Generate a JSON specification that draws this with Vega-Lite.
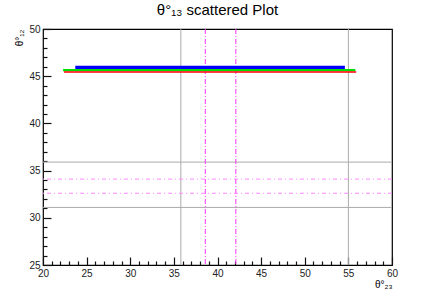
{
  "$schema": "https://vega.github.io/schema/vega-lite/v6.json",
  "autosize": "none",
  "width": 349,
  "height": 236,
  "padding": {"left": 43, "top": 29, "right": 44, "bottom": 30},
  "background": "white",
  "config": {
    "font": "Liberation Sans",
    "view": {"stroke": "black", "strokeWidth": 1.2},
    "axis": {"grid": false, "domain": false, "labelFont": "Liberation Sans", "labelFontSize": 10, "labelColor": "#222", "titleFont": "Liberation Sans", "titleFontWeight": "normal", "titleFontSize": 10}
  },
  "title": {"text": "θ°₁₃ scattered Plot", "fontSize": 15, "fontWeight": "normal", "font": "Liberation Sans", "offset": 6, "color": "black"},
  "data": {"values": [
    {"kind": "band", "series": "blue", "x": 23.7, "x2": 54.6, "y": 45.72, "y2": 46.1},
    {"kind": "band", "series": "green", "x": 22.3, "x2": 55.8, "y": 45.52, "y2": 45.75},
    {"kind": "band", "series": "red", "x": 22.4, "x2": 55.9, "y": 45.36, "y2": 45.52},
    {"kind": "vgray", "v": 35.8},
    {"kind": "vgray", "v": 55.0},
    {"kind": "vmag", "v": 38.6},
    {"kind": "vmag", "v": 42.1},
    {"kind": "hgray", "v": 35.9},
    {"kind": "hgray", "v": 31.1},
    {"kind": "hmag", "v": 34.1},
    {"kind": "hmag", "v": 32.6}
  ]},
  "layer": [
    {
      "transform": [{"filter": "datum.kind === 'vgray'"}],
      "mark": {"type": "rule", "color": "#aaaaaa", "strokeWidth": 1},
      "encoding": {
        "x": {"field": "v", "type": "quantitative", "scale": {"domain": [20, 60], "nice": false, "zero": false},
          "axis": {"orient": "bottom", "offset": -4, "values": [21,22,23,24,26,27,28,29,31,32,33,34,36,37,38,39,41,42,43,44,46,47,48,49,51,52,53,54,56,57,58,59], "labels": false, "ticks": true, "tickSize": 4, "tickColor": "#111111", "tickWidth": 1.2, "title": null}}
      }
    },
    {
      "transform": [{"filter": "datum.kind === 'hgray'"}],
      "mark": {"type": "rule", "color": "#aaaaaa", "strokeWidth": 1},
      "encoding": {
        "y": {"field": "v", "type": "quantitative", "scale": {"domain": [25, 50], "nice": false, "zero": false},
          "axis": {"orient": "left", "offset": -4, "values": [26,27,28,29,31,32,33,34,36,37,38,39,41,42,43,44,46,47,48,49], "labels": false, "ticks": true, "tickSize": 4, "tickColor": "#111111", "tickWidth": 1.2, "title": null}}
      }
    },
    {
      "transform": [{"filter": "datum.kind === 'vmag'"}],
      "mark": {"type": "rule", "color": "#ff33ff", "strokeWidth": 1, "strokeDash": [5, 2, 1, 2]},
      "encoding": {
        "x": {"field": "v", "type": "quantitative",
          "axis": {"orient": "bottom", "offset": -8, "values": [20,25,30,35,40,45,50,55,60], "ticks": true, "tickSize": 8, "tickColor": "#111111", "tickWidth": 1.2, "labelPadding": 3, "title": "θ°₂₃", "titleAnchor": "end", "titlePadding": 1, "labelFlush": false}}
      }
    },
    {
      "transform": [{"filter": "datum.kind === 'hmag'"}],
      "mark": {"type": "rule", "color": "#ff88ff", "strokeWidth": 1, "strokeDash": [4, 3, 1, 3]},
      "encoding": {
        "y": {"field": "v", "type": "quantitative",
          "axis": {"orient": "left", "offset": -8, "values": [25,30,35,40,45,50], "ticks": true, "tickSize": 8, "tickColor": "#111111", "tickWidth": 1.2, "labelPadding": 3, "title": "θ°₁₂", "titleAnchor": "end", "titlePadding": 4, "labelFlush": false}}
      }
    },
    {
      "transform": [{"filter": "datum.kind === 'band'"}],
      "mark": {"type": "rect"},
      "encoding": {
        "x": {"field": "x", "type": "quantitative", "axis": null},
        "x2": {"field": "x2"},
        "y": {"field": "y", "type": "quantitative", "axis": null},
        "y2": {"field": "y2"},
        "color": {"field": "series", "type": "nominal", "scale": {"domain": ["blue", "green", "red"], "range": ["#0000ff", "#00dd00", "#ff0000"]}, "legend": null}
      }
    }
  ],
  "resolve": {"axis": {"x": "independent", "y": "independent"}}
}
